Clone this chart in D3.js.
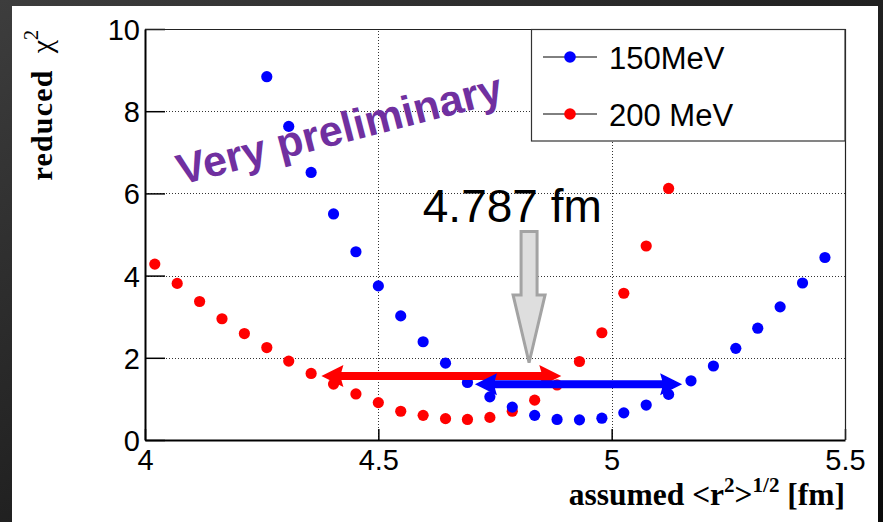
<!DOCTYPE html>
<html>
<head>
<meta charset="utf-8">
<script src="https://cdn.jsdelivr.net/npm/d3@7"></script>
<style>
  html, body { margin: 0; padding: 0; background: #1c1c1c; }
  svg { display: block; }
</style>
</head>
<body>
<script>
// Assumed rms radius grid [fm]
const radius = [4.021, 4.069, 4.117, 4.165, 4.213, 4.261, 4.308, 4.356, 4.404, 4.452,
                4.500, 4.548, 4.596, 4.644, 4.691, 4.739, 4.787, 4.835, 4.883, 4.931,
                4.979, 5.026, 5.074, 5.122, 5.170, 5.218, 5.266, 5.313, 5.361, 5.409, 5.457];

// Reduced chi^2 per beam energy
const radius150 = radius.slice(5);
const chi2_150 = [8.84, 7.63, 6.51, 5.50, 4.58, 3.75, 3.02, 2.39, 1.87, 1.40,
                  1.05, 0.80, 0.60, 0.50, 0.49, 0.53, 0.66, 0.85, 1.11, 1.44,
                  1.80, 2.23, 2.72, 3.24, 3.82, 4.44];
const radius200 = radius.slice(0, 24);
const chi2_200 = [4.28, 3.81, 3.37, 2.95, 2.59, 2.25, 1.92, 1.62, 1.36, 1.12,
                  0.91, 0.70, 0.60, 0.52, 0.50, 0.55, 0.70, 0.97, 1.34, 1.91,
                  2.61, 3.57, 4.72, 6.12];

const seriesNames = ["150MeV", "200 MeV"];
const seriesColors = ["#0000ff", "#ff0000"];

const xTicks = [4, 4.5, 5, 5.5];
const yTicks = [0, 2, 4, 6, 8, 10];
const xGrid = [4.5, 5];
const yGrid = [2, 4, 6, 8];

// Allowed radius ranges drawn as double arrows
const range200 = [4.378, 4.892], level200 = 1.557;
const range150 = [4.707, 5.151], level150 = 1.355;

// Combined result
const bestRadius = 4.787;
const pointerX = 4.823, pointerTop = 5.07, pointerNeck = 3.53, pointerTip = 1.88;

const W = 883, H = 522;
const svg = d3.select("body").append("svg").attr("width", W).attr("height", H);

// Dark slide background with white panel
const defs = svg.append("defs");
const bg = defs.append("linearGradient").attr("id", "bg")
  .attr("x1", "0").attr("y1", "0").attr("x2", "1").attr("y2", "1");
bg.append("stop").attr("offset", "0%").attr("stop-color", "#3d3d3d");
bg.append("stop").attr("offset", "55%").attr("stop-color", "#1e1e1e");
bg.append("stop").attr("offset", "100%").attr("stop-color", "#0a0a0a");
svg.append("rect").attr("width", W).attr("height", H).attr("fill", "url(#bg)");
svg.append("rect").attr("x", 12).attr("y", 6).attr("width", 866).attr("height", 516).attr("fill", "#fff");

const x = d3.scaleLinear().domain([4, 5.5]).range([145, 845]);
const y = d3.scaleLinear().domain([0, 10]).range([440, 29]);

// Dotted grid
const grid = svg.append("g").attr("stroke", "#333").attr("stroke-width", 1)
  .attr("stroke-dasharray", "1,2");
grid.selectAll(".gy").data(yGrid).join("line")
  .attr("x1", x(4)).attr("x2", x(5.5))
  .attr("y1", d => Math.round(y(d)) + 0.5).attr("y2", d => Math.round(y(d)) + 0.5);
grid.selectAll(".gx").data(xGrid).join("line")
  .attr("y1", y(0)).attr("y2", y(10))
  .attr("x1", d => Math.round(x(d)) + 0.5).attr("x2", d => Math.round(x(d)) + 0.5);

// Watermark
svg.append("text")
  .attr("transform", "translate(181,185) rotate(-14.5)")
  .attr("font-family", "Liberation Sans, Arial, sans-serif")
  .attr("font-weight", "bold").attr("font-size", 43)
  .attr("fill", "#7030a0")
  .text("Very preliminary");

// Data points
const pts = svg.append("g");
pts.selectAll(".p200").data(chi2_200).join("circle")
  .attr("cx", (d, i) => x(radius200[i])).attr("cy", d => y(d))
  .attr("r", 5.6).attr("fill", seriesColors[1]);
pts.selectAll(".p150").data(chi2_150).join("circle")
  .attr("cx", (d, i) => x(radius150[i])).attr("cy", d => y(d))
  .attr("r", 5.6).attr("fill", seriesColors[0]);

// Double-headed range arrows
function doubleArrow(range, level, color) {
  const x1 = x(range[0]), x2 = x(range[1]), yc = y(level);
  const hl = 22, hw = 11, sw = 4;
  const p = [
    [x1, yc], [x1 + hl, yc - hw], [x1 + hl - 2, yc - sw], [x2 - hl + 2, yc - sw],
    [x2 - hl, yc - hw], [x2, yc], [x2 - hl, yc + hw], [x2 - hl + 2, yc + sw],
    [x1 + hl - 2, yc + sw], [x1 + hl, yc + hw]
  ];
  svg.append("path").attr("d", "M" + p.map(q => q.join(",")).join("L") + "Z")
    .attr("fill", color);
}
doubleArrow(range200, level200, seriesColors[1]);
doubleArrow(range150, level150, seriesColors[0]);

// Pointer arrow to the combined radius
{
  const cx = x(pointerX), yt = y(pointerTop), yn = y(pointerNeck), yp = y(pointerTip);
  const sw = 8, hw = 16;
  const p = [[cx - sw, yt], [cx + sw, yt], [cx + sw, yn], [cx + hw, yn], [cx, yp],
             [cx - hw, yn], [cx - sw, yn]];
  svg.append("path").attr("d", "M" + p.map(q => q.join(",")).join("L") + "Z")
    .attr("fill", "#dedede").attr("stroke", "#a3a3a3").attr("stroke-width", 3)
    .attr("stroke-linejoin", "miter");
}
svg.append("text")
  .attr("x", x(bestRadius)).attr("y", 222)
  .attr("text-anchor", "middle")
  .attr("font-family", "Liberation Sans, Arial, sans-serif").attr("font-size", 46)
  .attr("fill", "#000")
  .text(bestRadius + " fm");

// Axes (ticks pointing inward)
const tickFont = "Liberation Sans, Arial, sans-serif";
const yAxis = svg.append("g").attr("transform", `translate(${x(4)},0)`)
  .call(d3.axisLeft(y).tickValues(yTicks).tickSizeInner(-20).tickSizeOuter(0)
        .tickPadding(5).tickFormat(d3.format("d")));
const xAxis = svg.append("g").attr("transform", `translate(0,${y(0)})`)
  .call(d3.axisBottom(x).tickValues(xTicks).tickSizeInner(-11).tickSizeOuter(0)
        .tickPadding(9).tickFormat(d => String(d)));
[yAxis, xAxis].forEach(a => {
  a.selectAll("text").attr("font-family", tickFont).attr("font-size", 29).attr("fill", "#000");
  a.selectAll("line").attr("stroke", "#000").attr("stroke-width", 1.5);
  a.select(".domain").attr("stroke", "#000").attr("stroke-width", 2);
});
yAxis.selectAll("text").attr("dy", "0.36em");

// Top and right frame
svg.append("path")
  .attr("d", `M${x(4)},${y(10) + 0.5}H${x(5.5) + 0.5}V${y(0)}`)
  .attr("fill", "none").attr("stroke", "#222").attr("stroke-width", 1.2);

// Legend
const lg = svg.append("g");
lg.append("rect").attr("x", 531.5).attr("y", 29.5).attr("width", 313.5).attr("height", 111.5)
  .attr("fill", "#fff").attr("stroke", "#333").attr("stroke-width", 1.2);
const legendRows = [57, 114];
seriesNames.forEach((name, i) => {
  const yy = legendRows[i];
  lg.append("line").attr("x1", 543).attr("x2", 597).attr("y1", yy).attr("y2", yy)
    .attr("stroke", "#000").attr("stroke-width", 1);
  lg.append("circle").attr("cx", 570).attr("cy", yy).attr("r", 5.8).attr("fill", seriesColors[i]);
  lg.append("text").attr("x", 609).attr("y", yy + 11.5)
    .attr("font-family", tickFont).attr("font-size", 31).attr("fill", "#000")
    .text(name);
});

// Axis titles
const serif = "Liberation Serif, Times New Roman, serif";
const xt = svg.append("text")
  .attr("x", 845).attr("y", 505).attr("text-anchor", "end")
  .attr("font-family", serif).attr("font-weight", "bold").attr("font-size", 31.5).attr("fill", "#000");
xt.append("tspan").text("assumed <r");
xt.append("tspan").attr("font-size", 21).attr("dy", -13).text("2");
xt.append("tspan").attr("dy", 13).text(">");
xt.append("tspan").attr("font-size", 21).attr("dy", -13).text("1/2");
xt.append("tspan").attr("dy", 13).text(" [fm]");

const yt = svg.append("text")
  .attr("transform", "translate(52,30) rotate(-90)")
  .attr("text-anchor", "end")
  .attr("font-family", serif).attr("font-size", 30).attr("fill", "#000");
yt.append("tspan").attr("font-weight", "bold").attr("letter-spacing", 1.2).text("reduced");
yt.append("tspan").attr("dx", 16).text("χ");
yt.append("tspan").attr("font-size", 20).attr("dy", -14).text("2");
</script>
</body>
</html>
